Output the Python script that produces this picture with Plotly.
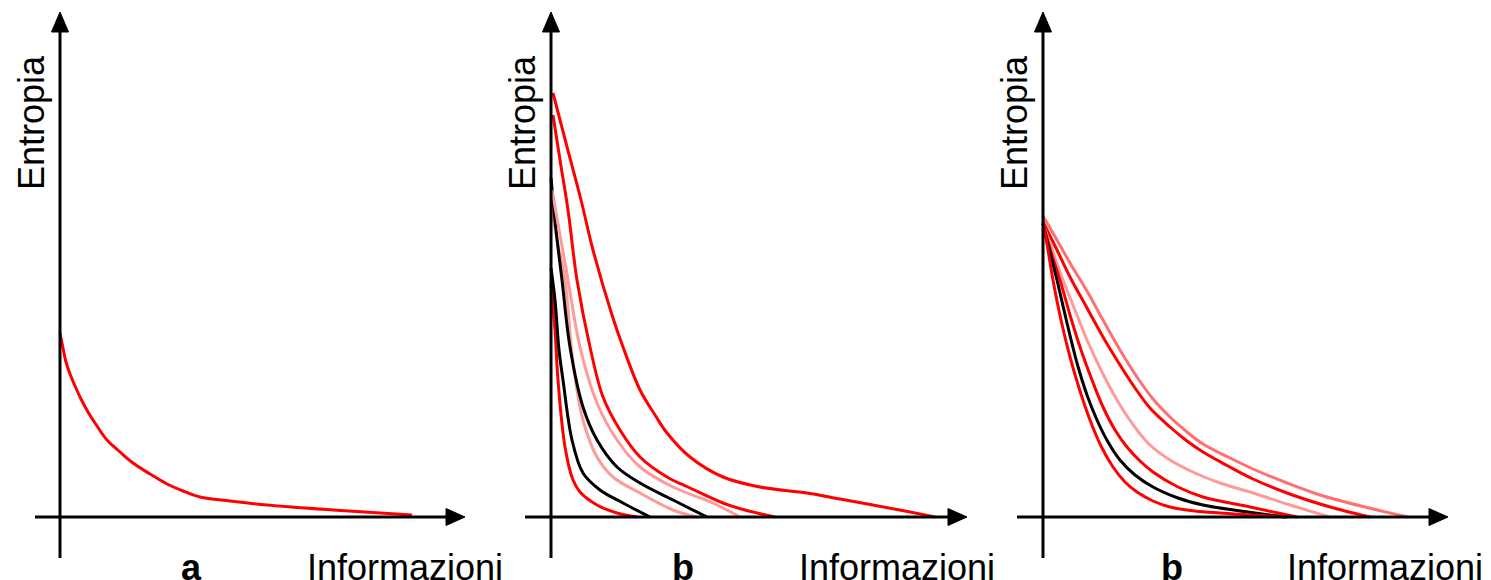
import plotly.graph_objects as go

W, H = 1491, 580
OFF = 8                      # default page margin of the html body
FW, FH = W - OFF, H - OFF    # figure size so that it fits the window

# ---------------- data (Informazioni, Entropia) ----------------
# panel a
a_x = [0, 0.3, 0.6, 1.0, 1.5, 2.1, 2.8, 3.7, 4.7, 6.0, 7.3, 9.0, 10.7, 12.3, 14.0, 17.0, 20.7, 27.3, 35.2]
a_y = [18.4, 16.9, 15.5, 14.3, 13.1, 11.8, 10.5, 9.1, 7.7, 6.5, 5.4, 4.3, 3.3, 2.6, 2.0, 1.6, 1.2, 0.7, 0.2]

# panel b
b_red_out_x = [0.2, 1.5, 3.0, 4.2, 6.1, 7.2, 8.9, 10.4, 11.6, 13.9, 17.2, 20.9, 25.6, 28.9, 32.2, 35.4, 38.4]
b_red_out_y = [42.4, 37.4, 31.7, 26.7, 20.2, 17.0, 12.7, 10.2, 8.4, 6.0, 4.0, 3.0, 2.4, 1.8, 1.2, 0.6, 0.0]
b_red_2_x = [0.2, 0.9, 1.7, 2.6, 3.9, 5.2, 6.9, 8.9, 11.6, 13.9, 17.2, 19.4, 22.4]
b_red_2_y = [40.2, 35.7, 30.7, 23.7, 17.0, 12.0, 8.7, 6.0, 4.0, 2.9, 1.4, 0.7, 0.0]
b_pink_out_x = [0.1, 0.9, 1.7, 2.9, 4.6, 6.6, 8.9, 12.2, 16.2, 18.9]
b_pink_out_y = [32.7, 28.2, 23.7, 17.0, 11.4, 7.7, 5.0, 3.0, 1.4, 0.0]
b_black_out_x = [0, 0.5, 1.1, 1.9, 3.2, 4.6, 6.6, 8.9, 12.2, 15.6]
b_black_out_y = [33.9, 28.7, 23.7, 17.0, 11.0, 7.7, 5.0, 3.4, 1.7, 0.0]
b_pink_in_x = [0.1, 0.7, 1.4, 2.2, 3.2, 4.6, 6.2, 8.9, 12.2, 14.6]
b_pink_in_y = [30.7, 27.2, 23.7, 15.4, 9.7, 6.0, 4.0, 2.4, 0.7, 0.0]
b_black_in_x = [0, 0.4, 0.8, 1.2, 2.1, 3.2, 4.9, 7.2, 9.9]
b_black_in_y = [24.9, 21.7, 16.7, 13.7, 7.7, 4.4, 2.7, 1.4, 0.0]
b_red_in_x = [0, 0.4, 0.7, 1.4, 2.2, 2.9, 4.6, 6.6, 8.6]
b_red_in_y = [23.2, 18.7, 13.7, 7.0, 3.7, 2.5, 1.2, 0.4, 0.0]

# panel c
c_pink_out_x = [0, 1.4, 2.7, 4.4, 6.0, 7.7, 9.4, 11.0, 12.7, 14.4, 16.0, 18.5, 21.0, 24.4, 27.7, 32.2, 36.5]
c_pink_out_y = [30.1, 27.7, 25.4, 22.6, 19.7, 16.7, 14.0, 11.8, 10.0, 8.5, 7.3, 6.0, 4.8, 3.4, 2.2, 1.0, 0.0]
c_red_out_x = [0, 1.4, 2.7, 4.4, 6.0, 7.7, 9.2, 10.7, 12.7, 14.4, 16.0, 18.5, 21.0, 24.4, 27.7, 30.2, 32.7]
c_red_out_y = [29.5, 26.7, 24.0, 20.9, 18.0, 15.2, 12.9, 10.9, 9.0, 7.6, 6.5, 5.1, 3.8, 2.4, 1.3, 0.6, 0.0]
c_pink_mid_x = [0, 1.0, 2.0, 3.2, 4.4, 5.7, 7.0, 8.2, 9.4, 10.7, 12.7, 15.2, 17.7, 20.7, 24.7, 28.7]
c_pink_mid_y = [29.3, 26.5, 23.7, 20.7, 17.7, 14.9, 12.4, 10.4, 8.7, 7.2, 5.7, 4.4, 3.4, 2.5, 1.2, 0.0]
c_red_mid_x = [0, 0.8, 1.7, 2.7, 3.7, 4.9, 6.0, 7.2, 8.4, 9.7, 11.0, 13.5, 16.0, 20.7, 25.4]
c_red_mid_y = [29.3, 26.5, 23.7, 20.2, 17.0, 13.7, 11.0, 8.7, 7.0, 5.6, 4.5, 3.0, 2.0, 1.0, 0.0]
c_black_x = [0, 0.7, 1.4, 2.4, 3.4, 4.4, 5.4, 6.5, 7.7, 9.2, 11.0, 13.5, 16.0, 19.7, 24.4]
c_black_y = [29.3, 26.5, 23.7, 19.4, 15.4, 12.2, 9.7, 7.5, 5.7, 4.2, 3.0, 1.9, 1.2, 0.6, 0.0]
c_red_in_x = [0, 0.5, 1.0, 1.8, 2.7, 3.7, 4.7, 5.8, 7.0, 8.2, 9.4, 11.0, 12.7, 15.2, 17.7, 24.4]
c_red_in_y = [29.5, 26.7, 23.7, 19.7, 16.0, 12.6, 9.7, 7.1, 5.0, 3.5, 2.5, 1.6, 1.0, 0.6, 0.4, 0.0]

y_label = "Entropia"
x_label = "Informazioni"
panel_letters = ["a", "b", "b"]

RED = "#ff0000"
PINK = "#ff9a9a"
PINK2 = "#ff7070"
BLACK = "#000000"
LW = 3
FONT = "Liberation Sans, Arial, sans-serif"

# panel geometry (reference pixels): origin of axes and horizontal extent
UNIT = 10.0
OY = 517
panels = [
    dict(ox=60, L=OFF, R=500, xa=(-2.5, 40.5), letter_x=13.1, lab_x=24.5),
    dict(ox=551, L=500, R=995, xa=(-2.6, 41.6), letter_x=13.2, lab_x=24.6),
    dict(ox=1043, L=995, R=W, xa=(-2.6, 40.5), letter_x=12.9, lab_x=24.2),
]
YR = [(OY - H) / UNIT, (OY - OFF) / UNIT]

series = [
    (0, a_x, a_y, RED),
    (1, b_red_in_x, b_red_in_y, RED),
    (1, b_black_in_x, b_black_in_y, BLACK),
    (1, b_pink_in_x, b_pink_in_y, PINK),
    (1, b_black_out_x, b_black_out_y, BLACK),
    (1, b_pink_out_x, b_pink_out_y, PINK),
    (1, b_red_2_x, b_red_2_y, RED),
    (1, b_red_out_x, b_red_out_y, RED),
    (2, c_pink_out_x, c_pink_out_y, PINK2),
    (2, c_red_out_x, c_red_out_y, RED),
    (2, c_pink_mid_x, c_pink_mid_y, PINK),
    (2, c_red_mid_x, c_red_mid_y, RED),
    (2, c_black_x, c_black_y, BLACK),
    (2, c_red_in_x, c_red_in_y, RED),
]

fig = go.Figure()
for p, xs, ys, col in series:
    sfx = "" if p == 0 else str(p + 1)
    fig.add_trace(go.Scatter(x=xs, y=ys, mode="lines",
                             line=dict(color=col, width=LW, shape="spline", smoothing=1.0),
                             xaxis="x" + sfx, yaxis="y" + sfx,
                             showlegend=False, hoverinfo="skip"))

shapes, annotations = [], []
layout_axes = {}
for i, pnl in enumerate(panels):
    sfx = "" if i == 0 else str(i + 1)
    xk, yk = "xaxis" + sfx, "yaxis" + sfx
    dom = [max(0.0, (pnl["L"] - OFF) / FW), min(1.0, (pnl["R"] - OFF) / FW)]
    xrng = [(pnl["L"] - pnl["ox"]) / UNIT, (pnl["R"] - pnl["ox"]) / UNIT]
    layout_axes[xk] = dict(domain=dom, range=xrng, visible=False, fixedrange=True,
                           anchor="y" + sfx)
    layout_axes[yk] = dict(domain=[0, 1], range=YR, visible=False, fixedrange=True,
                           anchor="x" + sfx)
    xr, yr = "x" + sfx, "y" + sfx
    x0, x1 = pnl["xa"]
    # axis lines
    shapes.append(dict(type="line", xref=xr, yref=yr, x0=x0, x1=x1 - 1.5, y0=0, y1=0,
                       line=dict(color="black", width=3)))
    shapes.append(dict(type="line", xref=xr, yref=yr, x0=0, x1=0, y0=-4.1, y1=48.5,
                       line=dict(color="black", width=3)))
    # arrowheads
    shapes.append(dict(type="path", xref=xr, yref=yr,
                       path=f"M {x1 - 1.9},0.85 L {x1},0 L {x1 - 1.9},-0.85 Z",
                       fillcolor="black", line=dict(color="black", width=1)))
    shapes.append(dict(type="path", xref=xr, yref=yr,
                       path="M -0.85,48.5 L 0,50.5 L 0.85,48.5 Z",
                       fillcolor="black", line=dict(color="black", width=1)))
    # labels
    annotations.append(dict(text=y_label, xref=xr, yref=yr, x=-2.9, y=39.4, textangle=-90,
                            showarrow=False, xanchor="center", yanchor="middle",
                            font=dict(family=FONT, size=36, color="black")))
    annotations.append(dict(text=x_label, xref=xr, yref="paper", x=pnl["lab_x"], y=-0.0168,
                            showarrow=False, xanchor="left", yanchor="bottom",
                            font=dict(family=FONT, size=36, color="black")))
    annotations.append(dict(text="<b>" + panel_letters[i] + "</b>", xref=xr, yref="paper",
                            x=pnl["letter_x"], y=-0.0168, showarrow=False,
                            xanchor="center", yanchor="bottom",
                            font=dict(family=FONT, size=36, color="black")))

fig.update_layout(width=FW, height=FH, margin=dict(l=0, r=0, t=0, b=0),
                  paper_bgcolor="white", plot_bgcolor="white",
                  shapes=shapes, annotations=annotations, **layout_axes)
fig.write_html("out.html")
